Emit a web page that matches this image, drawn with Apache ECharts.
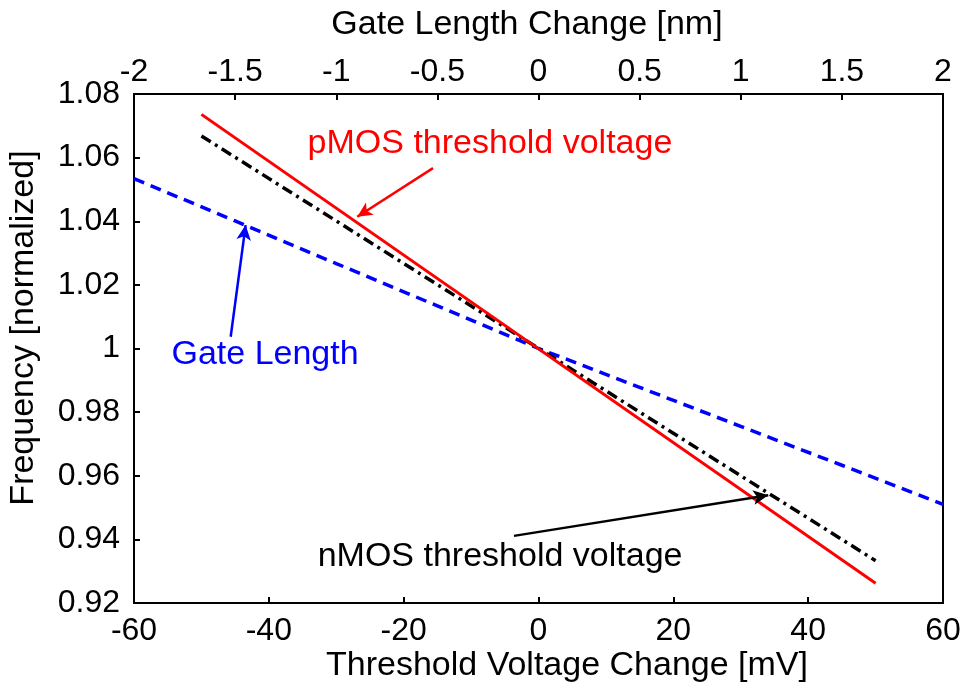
<!DOCTYPE html>
<html>
<head>
<meta charset="utf-8">
<script src="https://cdn.jsdelivr.net/npm/echarts@6/dist/echarts.min.js"></script>
<style>
  html, body { margin: 0; padding: 0; background: #fff; }
  #chart { width: 971px; height: 693px; }
</style>
</head>
<body>
<div id="chart"></div>
<script>
// threshold voltage change [mV] for the two Vth curves
const vthChange = [-50, 50];
const pmosFreq = [1.0736, 0.9262];
const nmosFreq = [1.0668, 0.9333];

// gate length change [nm] (top axis)
const gateLenChange = [-2, -1.5, -1, -0.5, 0, 0.5, 1, 1.5, 2];
const gateLenFreq = [1.0534, 1.0401, 1.0267, 1.0134, 1.0, 0.9878, 0.9755, 0.9633, 0.9510];

// annotation arrows: [from, to] in the axis units of their series
const pmosArrow = [[-15.65, 1.0567], [-26.88, 1.0414]];
const nmosArrow = [[-3.64, 0.9411], [34.08, 0.9539]];
const gateArrow = [[-1.522, 1.0037], [-1.448, 1.0388]];

// annotation labels (centre point)
const pmosLabel = ['pMOS threshold voltage', -7.2, 1.0643];
const nmosLabel = ['nMOS threshold voltage', -5.7, 0.9345];
const gateLabel = ['Gate Length', -1.352, 0.998];

const FONT = 'Liberation Sans';
const FS = 32;   // tick labels
const FT = 34;   // titles and notes

const pairs = (xs, ys) => xs.map((x, i) => [x, ys[i]]);

const arrow = (pts, color) => ({
  silent: true,
  animation: false,
  symbol: ['none', 'arrow'],
  symbolSize: [11, 15],
  label: { show: false },
  lineStyle: { color: color, width: 2.5, type: 'solid' },
  emphasis: { disabled: true },
  data: [[{ coord: pts[0] }, { coord: pts[1] }]]
});

const label = (lab, color) => ({
  silent: true,
  animation: false,
  symbol: 'circle',
  symbolSize: 0,
  label: {
    show: true, position: 'inside', formatter: lab[0],
    color: color, fontFamily: FONT, fontSize: FT
  },
  data: [{ coord: [lab[1], lab[2]] }]
});

const chart = echarts.init(document.getElementById('chart'));

const axisText = { color: '#000', fontFamily: FONT, fontSize: FS };
const titleFont = FT + 'px "' + FONT + '"';

chart.setOption({
  animation: false,
  backgroundColor: '#fff',
  grid: {
    left: 134, right: 28, top: 94, bottom: 90,
    show: true, borderColor: '#000', borderWidth: 2, backgroundColor: 'transparent'
  },
  xAxis: [
    {
      type: 'value', position: 'bottom', min: -60, max: 60, interval: 20,
      axisLine: { onZero: false, lineStyle: { color: '#000', width: 2 } },
      axisTick: { inside: true, length: 6, lineStyle: { color: '#000', width: 2 } },
      axisLabel: Object.assign({ margin: 12 }, axisText),
      splitLine: { show: false }
    },
    {
      type: 'value', position: 'top', min: -2, max: 2, interval: 0.5,
      axisLine: { onZero: false, lineStyle: { color: '#000', width: 2 } },
      axisTick: { inside: true, length: 6, lineStyle: { color: '#000', width: 2 } },
      axisLabel: Object.assign({ margin: 6 }, axisText),
      splitLine: { show: false }
    }
  ],
  yAxis: {
    type: 'value', position: 'left', min: 0.92, max: 1.08, interval: 0.02,
    axisLine: { show: true, onZero: false, lineStyle: { color: '#000', width: 2 } },
    axisTick: { show: true, inside: true, length: 6, lineStyle: { color: '#000', width: 2 } },
    axisLabel: Object.assign({ margin: 14, formatter: v => String(+v.toFixed(2)) }, axisText),
    splitLine: { show: false }
  },
  graphic: [
    {
      type: 'text', x: 567, y: 666,
      style: { text: 'Threshold Voltage Change [mV]', font: titleFont, fill: '#000', align: 'center', verticalAlign: 'middle' }
    },
    {
      type: 'text', x: 527, y: 25,
      style: { text: 'Gate Length Change [nm]', font: titleFont, fill: '#000', align: 'center', verticalAlign: 'middle' }
    },
    {
      type: 'text', x: 24, y: 328, rotation: Math.PI / 2,
      style: { text: 'Frequency [normalized]', font: titleFont, fill: '#000', align: 'center', verticalAlign: 'middle' }
    }
  ],
  series: [
    {
      name: 'Gate Length', type: 'line', xAxisIndex: 1,
      data: pairs(gateLenChange, gateLenFreq),
      showSymbol: false, symbol: 'none',
      lineStyle: { color: '#0000ff', width: 3.5, type: [11, 7] },
      markLine: arrow(gateArrow, '#0000ff'),
      markPoint: label(gateLabel, '#0000ff'),
      z: 2
    },
    {
      name: 'nMOS', type: 'line', xAxisIndex: 0,
      data: pairs(vthChange, nmosFreq),
      showSymbol: false, symbol: 'none',
      lineStyle: { color: '#000', width: 3.5, type: [11, 5, 3, 5] },
      markLine: arrow(nmosArrow, '#000'),
      markPoint: label(nmosLabel, '#000'),
      z: 3
    },
    {
      name: 'pMOS', type: 'line', xAxisIndex: 0,
      data: pairs(vthChange, pmosFreq),
      showSymbol: false, symbol: 'none',
      lineStyle: { color: '#ff0000', width: 3 },
      markLine: arrow(pmosArrow, '#ff0000'),
      markPoint: label(pmosLabel, '#ff0000'),
      z: 4
    }
  ]
});
</script>
</body>
</html>
